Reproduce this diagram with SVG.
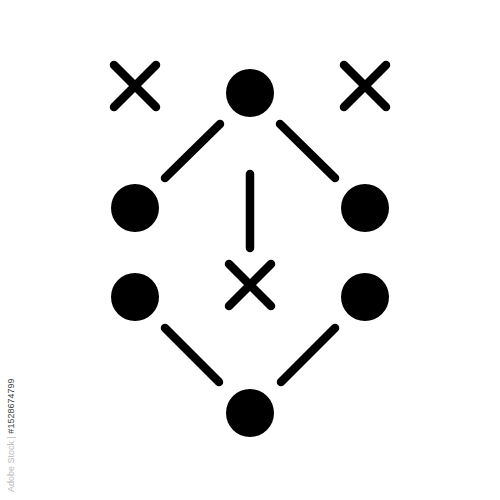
<svg xmlns="http://www.w3.org/2000/svg" width="500" height="500" viewBox="0 0 500 500">
<style>
.ln{stroke:#000;stroke-width:8.5;stroke-linecap:round;fill:none}
.nd{fill:#000}
.wm{font-family:"Liberation Sans",Arial,sans-serif;font-size:9px;fill:#444}
.wm2{fill:#bbb}
</style>
<rect width="500" height="500" fill="#fff"/>
<g id="connectors">
<line class="ln" x1="165" y1="178" x2="220" y2="124"/>
<line class="ln" x1="280" y1="124" x2="335" y2="178"/>
<line class="ln" x1="250" y1="174" x2="250" y2="248"/>
<line class="ln" x1="165" y1="328" x2="219" y2="382"/>
<line class="ln" x1="281" y1="382" x2="335" y2="328"/>
</g>
<g id="x-top-left"><path class="ln" d="M114 65 L156 107 M156 65 L114 107"/></g>
<g id="x-top-right"><path class="ln" d="M344 65 L386 107 M386 65 L344 107"/></g>
<g id="x-center"><path class="ln" d="M229 264 L271 306 M271 264 L229 306"/></g>
<g id="n-top"><circle class="nd" cx="250" cy="93" r="24"/></g>
<g id="n-left1"><circle class="nd" cx="135" cy="208" r="24"/></g>
<g id="n-right1"><circle class="nd" cx="365" cy="208" r="24"/></g>
<g id="n-left2"><circle class="nd" cx="135" cy="297" r="24"/></g>
<g id="n-right2"><circle class="nd" cx="365" cy="297" r="24"/></g>
<g id="n-bottom"><circle class="nd" cx="250" cy="413" r="24"/></g>
<text class="wm" transform="translate(14,492) rotate(-90)"><tspan class="wm2">Adobe Stock | </tspan>#1528674799</text>
</svg>
